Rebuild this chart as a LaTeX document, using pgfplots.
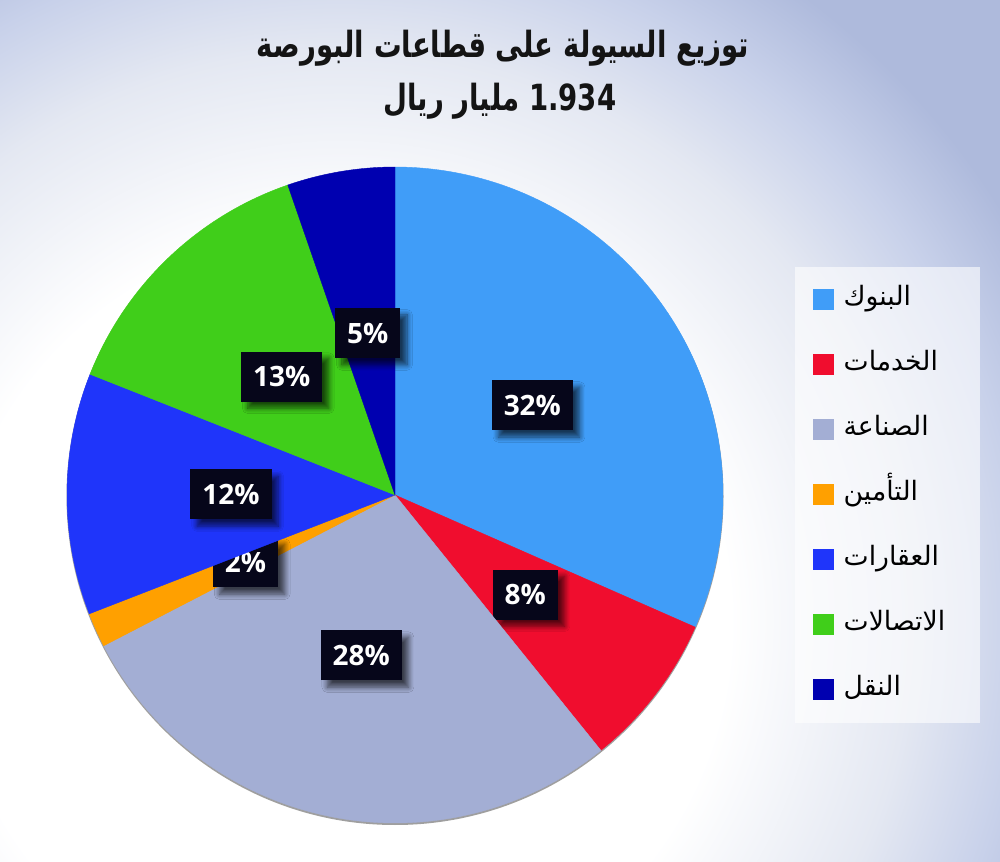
\documentclass[border=0pt]{standalone}
\usepackage{pgfplots}
\pgfplotsset{compat=1.18}
\usepackage{fontspec}
\usetikzlibrary{shadows,shadows.blur}
\setmainfont{Open Sans}
\newfontfamily\arabicfont[Script=Arabic]{DejaVu Sans}
\newfontfamily\arabictitle[Script=Arabic, FakeStretch=0.88]{DejaVu Sans}
\TeXXeTstate=1
\definecolor{cBanks}{HTML}{409DF8}
\definecolor{cServ}{HTML}{F00D2E}
\definecolor{cInd}{HTML}{A3AED4}
\definecolor{cIns}{HTML}{FFA000}
\definecolor{cRE}{HTML}{1F35FA}
\definecolor{cTel}{HTML}{40CE1A}
\definecolor{cTr}{HTML}{0000B0}
\definecolor{cLab}{HTML}{06061A}
\definecolor{bgA}{HTML}{E4E8F2}
\definecolor{bgB}{HTML}{C8D1EA}
\definecolor{bgC}{HTML}{AEBADC}
\pgfdeclareradialshading{bgshade}{\pgfpoint{0bp}{0bp}}{color(0bp)=(white); color(10.7bp)=(white); color(15.7bp)=(bgA); color(18.75bp)=(bgB); color(21.4bp)=(bgC); color(50bp)=(bgC)}
\tikzset{pct/.style={fill=cLab, text=white, font=\bfseries\fontsize{21}{24}\selectfont, inner xsep=9pt, inner ysep=0pt, minimum height=37.5pt, blur shadow={shadow xshift=5pt, shadow yshift=-5pt, shadow blur steps=8, shadow blur radius=4pt, shadow opacity=65}}}
% #1 cumulative share before the slice (%), #2 share (%), #3 colour, #4 label, #5 sector name
\newcommand{\slice}[5]{%
  \pgfmathsetmacro{\aS}{90-3.6*(#1+#2)}%
  \pgfmathsetmacro{\aE}{90-3.6*(#1)}%
  \addplot[fill=#3, draw=#3, line width=0.3pt, domain=\aS:\aE, samples=120, variable=\t]
     ({395+328*cos(\t)},{366+328*sin(\t)}) -- (axis cs:395,366) -- cycle;
  \addlegendentry{\beginR #5\endR}
  \pgfmathsetmacro{\mA}{90-3.6*(#1+#2/2)}%
  \pgfmathsetmacro{\lx}{395+164*cos(\mA)}%
  \pgfmathsetmacro{\ly}{366+164*sin(\mA)}%
  \edef\tmp{\noexpand\node[pct] at (axis cs:\lx,\ly) {#4};}\tmp
}
\begin{document}
\begin{tikzpicture}[x=0.75pt,y=0.75pt]
\useasboundingbox (0,0) rectangle (1000,861);
\begin{scope}
\clip (0,0) rectangle (1000,861);
\shade[shading=bgshade] (-570,-670) rectangle (1250,1150);
\end{scope}
% legend panel
\fill[white, opacity=0.6] (795,138) rectangle (980,594);
% pie shadow
\fill[gray!75] (395,364.5) circle (328.5);
% title
\node[font=\arabictitle\bfseries\fontsize{23.5}{28}\selectfont, text=black!92, yscale=1.15, transform shape] at (503,813) {\beginR توزيع السيولة على قطاعات البورصة\endR};
\node[font=\arabictitle\bfseries\fontsize{23.5}{28}\selectfont, text=black!92, yscale=1.15, transform shape] at (500,760) {\beginR\beginL 1.934\endL{} مليار ريال\endR};
\begin{axis}[at={(0,0)}, anchor=south west, scale only axis,
  width=750pt, height=645.75pt,
  xmin=0, xmax=1000, ymin=0, ymax=861,
  hide axis, clip=false,
  legend cell align=left,
  legend image code/.code={\fill[#1] (0pt,-7.5pt) rectangle (15pt,7.5pt);},
  legend style={draw=none, fill=none, at={(0.813,0.6702)}, anchor=north west,
    inner sep=0pt, row sep=26.25pt, column sep=7.5pt,
    font=\arabicfont\fontsize{20}{24}\selectfont,
    nodes={inner sep=0pt, text height=16pt, text depth=6.5pt}},
]
\slice{0}{31.6}{cBanks}{32\%}{البنوك}
\slice{31.6}{7.6}{cServ}{8\%}{الخدمات}
\slice{39.2}{28.2}{cInd}{28\%}{الصناعة}
\slice{67.4}{1.7}{cIns}{2\%}{التأمين}
\slice{69.1}{11.9}{cRE}{12\%}{العقارات}
\slice{81.0}{13.7}{cTel}{13\%}{الاتصالات}
\slice{94.7}{5.3}{cTr}{5\%}{النقل}
\end{axis}
\end{tikzpicture}
\end{document}
